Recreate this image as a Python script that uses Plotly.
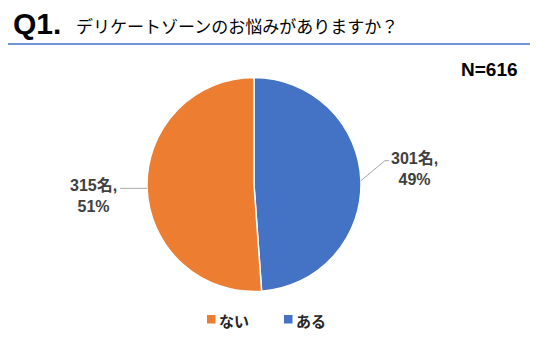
import math
import plotly.graph_objects as go

labels = ["ある", "ない"]
counts = [301, 315]
colors = ["#4472C4", "#ED7D31"]
legend_order = ["ない", "ある"]
total_n = 616

W, H = 536, 338
cx, cy, R = 254, 184.5, 107

fig = go.Figure()
fig.add_trace(go.Pie(
    labels=labels, values=counts, sort=False, direction="clockwise", rotation=0,
    marker=dict(colors=colors, line=dict(color="white", width=1.5)),
    textinfo="none", hoverinfo="label+value+percent", showlegend=False,
    domain=dict(x=[(cx - R) / W, (cx + R) / W], y=[1 - (cy + R) / H, 1 - (cy - R) / H]),
))

def px(x):
    return x / W

def py(y):
    return 1 - y / H

# leader lines and labels computed from slice angles (clockwise from 12 o'clock)
tot = sum(counts)
cum = 0
label_font = dict(family="Liberation Sans, Noto Sans CJK JP", size=16, color="#404040")
for i, (lab, c) in enumerate(zip(labels, counts)):
    mid = (cum + c / 2) / tot * 360
    cum += c
    ang = math.radians(mid)
    ex = cx + R * math.sin(ang)
    ey = cy - R * math.cos(ang)
    pct = round(c / tot * 100)
    txt = f"<b>{c}名,</b><br><b>{pct}%</b>"
    if ex < cx:
        x2 = ex - 27
        fig.add_shape(type="line", xref="paper", yref="paper",
                      x0=px(ex), y0=py(ey), x1=px(x2), y1=py(ey),
                      line=dict(color="#A6A6A6", width=1))
        fig.add_annotation(x=px(x2 - 1), y=py(ey - 13), xref="paper", yref="paper",
                           text=txt, showarrow=False, xanchor="right", yanchor="top",
                           align="center", font=label_font)
    else:
        x2, y2 = ex + 24, ey - 20
        fig.add_shape(type="path", xref="paper", yref="paper",
                      path=f"M {px(ex)} {py(ey)} L {px(x2)} {py(y2)} L {px(x2 + 4)} {py(y2)}",
                      line=dict(color="#A6A6A6", width=1))
        fig.add_annotation(x=px(x2 + 4), y=py(y2 - 13), xref="paper", yref="paper",
                           text=txt, showarrow=False, xanchor="left", yanchor="top",
                           align="center", font=label_font)

# custom legend (compact symbol-to-text spacing)
color_of = dict(zip(labels, colors))
leg_x = [207, 284]
for name, lx in zip(legend_order, leg_x):
    fig.add_shape(type="rect", xref="paper", yref="paper",
                  x0=px(lx), x1=px(lx + 8.5), y0=py(323.5), y1=py(315),
                  fillcolor=color_of[name], line=dict(width=0))
    fig.add_annotation(x=px(lx + 10), y=py(320), xref="paper", yref="paper",
                       xanchor="left", yanchor="middle", text=f"<b>{name}</b>", showarrow=False,
                       font=dict(family="Noto Sans CJK JP", size=15, color="#262626"))

# title
fig.add_annotation(x=px(11), y=py(23), xref="paper", yref="paper", xanchor="left", yanchor="middle",
                   text="<b>Q1.</b>", showarrow=False,
                   font=dict(family="Liberation Sans, Arial", size=30, color="black"))
fig.add_annotation(x=px(74), y=py(25), xref="paper", yref="paper", xanchor="left", yanchor="middle",
                   text="デリケートゾーンのお悩みがありますか？", showarrow=False,
                   font=dict(family="Noto Sans CJK JP", size=17, color="black"))
fig.add_shape(type="line", xref="paper", yref="paper", x0=px(8), x1=px(530), y0=py(44), y1=py(44),
              line=dict(color="#4472C4", width=1.5))
fig.add_annotation(x=px(520), y=py(70), xref="paper", yref="paper", xanchor="right", yanchor="middle",
                   text=f"<b>N={total_n}</b>", showarrow=False,
                   font=dict(family="Liberation Sans, Arial", size=19, color="black"))

fig.update_layout(
    width=W, height=H, margin=dict(l=0, r=0, t=0, b=0),
    paper_bgcolor="white", plot_bgcolor="white",
    showlegend=False,
)

fig.write_html("out.html")
